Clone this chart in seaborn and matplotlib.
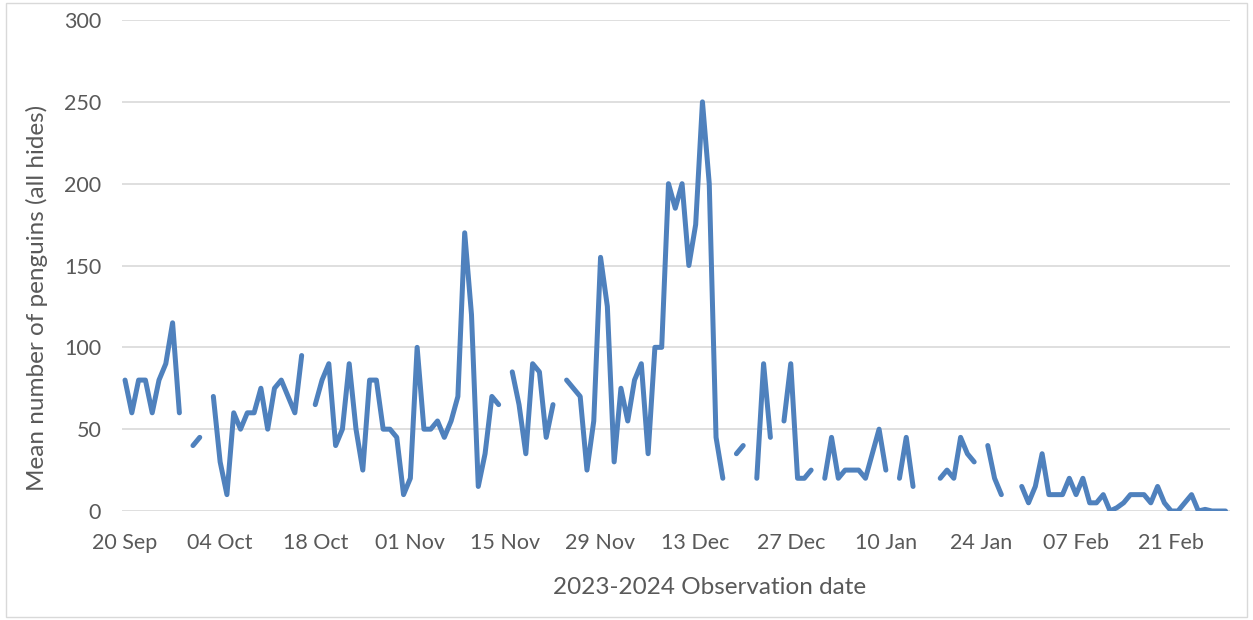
import numpy as np
import pandas as pd
import matplotlib
matplotlib.use("Agg")
from matplotlib import pyplot as plt
import matplotlib.dates as mdates
import seaborn as sns

# daily mean counts from 20 Sep 2023, None = no observation
start = "2023-09-20"
counts = [80, 60, 80, 80, 60, 80, 90, 115, 60, None,
          40, 45, None, 70, 30, 10, 60, 50, 60, 60,
          75, 50, 75, 80, 70, 60, 95, None, 65, 80,
          90, 40, 50, 90, 50, 25, 80, 80, 50, 50,
          45, 10, 20, 100, 50, 50, 55, 45, 55, 70,
          170, 120, 15, 35, 70, 65, None, 85, 65, 35,
          90, 85, 45, 65, None, 80, 75, 70, 25, 55,
          155, 125, 30, 75, 55, 80, 90, 35, 100, 100,
          200, 185, 200, 150, 175, 250, 200, 45, 20, None,
          35, 40, None, 20, 90, 45, None, 55, 90, 20,
          20, 25, None, 20, 45, 20, 25, 25, 25, 20,
          35, 50, 25, None, 20, 45, 15, None, None, None,
          20, 25, 20, 45, 35, 30, None, 40, 20, 10,
          None, None, 15, 5, 15, 35, 10, 10, 10, 20,
          10, 20, 5, 5, 10, 0, 2, 5, 10, 10,
          10, 5, 15, 5, 0, 0, 5, 10, 0, 1,
          0, 0, 0]
tick_dates = pd.date_range(start, periods=12, freq="14D")

df = pd.DataFrame({"date": pd.date_range(start, periods=len(counts), freq="D"),
                   "count": pd.array(counts, dtype="Float64")})
df["count"] = df["count"].astype(float)
df["seg"] = df["count"].isna().cumsum()
df = df.dropna()

sns.set_theme(style="white")
plt.rcParams["font.family"] = ["Lato", "DejaVu Sans"]
grey = "#595959"

fig = plt.figure(figsize=(12.53, 6.2), dpi=100)
ax = fig.add_axes([0.0974, 0.1758, 0.8842, 0.7919])

sns.lineplot(data=df, x="date", y="count", units="seg", estimator=None,
             color="#4F81BD", linewidth=3.6, ax=ax,
             solid_capstyle="round", solid_joinstyle="round")

ax.set_ylim(0, 300)
ax.set_yticks(range(0, 301, 50))
d0 = mdates.date2num(pd.Timestamp(start))
ax.set_xlim(d0 - 0.44, d0 + 162.65)
ax.set_xticks(tick_dates)
ax.xaxis.set_major_formatter(mdates.DateFormatter("%d %b"))

ax.grid(axis="y", color="#D9D9D9", linewidth=1.2)
ax.set_axisbelow(True)
for s in ax.spines.values():
    s.set_visible(False)
ax.tick_params(axis="both", length=0, labelsize=15.5, colors=grey)
ax.tick_params(axis="y", pad=15)
ax.tick_params(axis="x", pad=16)

ax.set_xlabel("2023-2024 Observation date", fontsize=17.5, color=grey)
ax.set_ylabel("Mean number of penguins (all hides)", fontsize=17.5, color=grey)
ax.xaxis.label.set_va("center")
ax.yaxis.label.set_va("center")
ax.xaxis.set_label_coords(0.53, -0.155)
ax.yaxis.set_label_coords(-0.0767, 0.434)

fig.patches.append(plt.Rectangle((0.005, 0.005), 0.99, 0.99, transform=fig.transFigure,
                                 fill=False, edgecolor="#D9D9D9", linewidth=1))

fig.savefig("out.png", dpi=100)
